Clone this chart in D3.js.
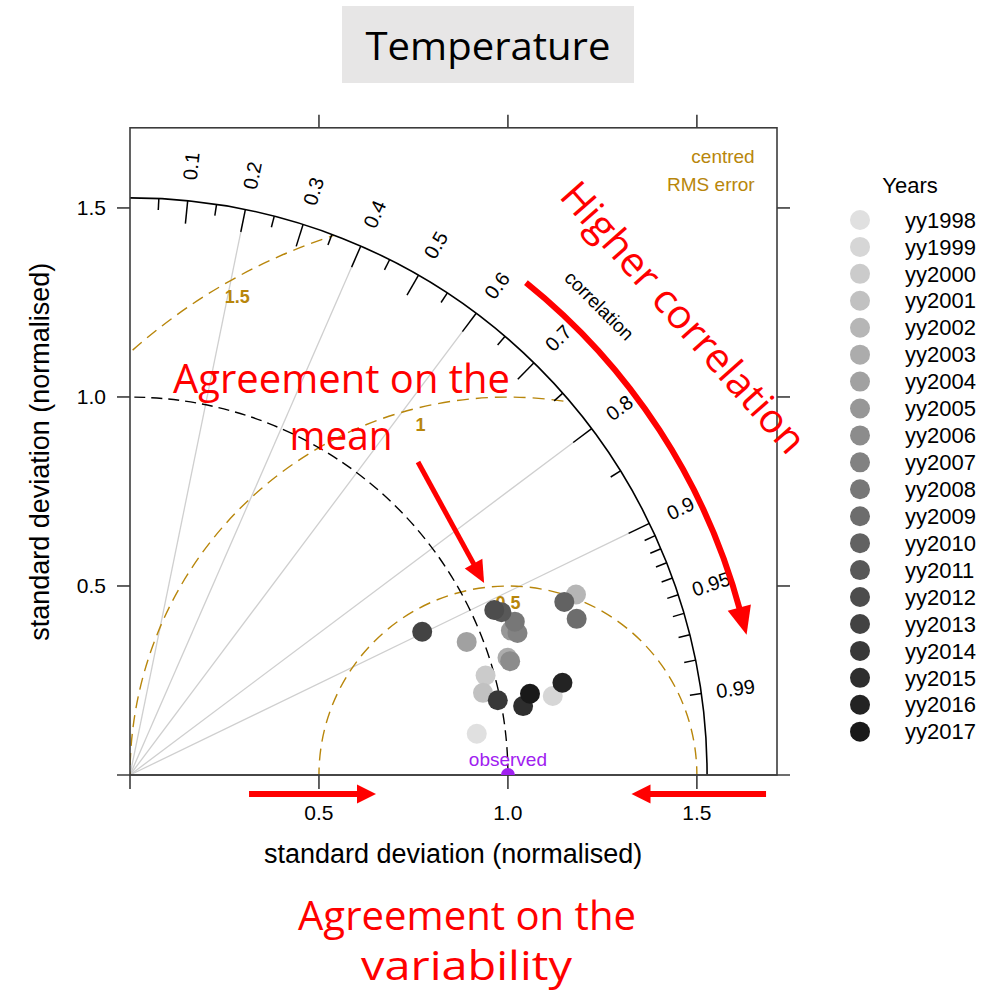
<!DOCTYPE html>
<meta charset="utf-8">
<style>
body { margin: 0; background: #fff; }
svg { display: block; }
text { font-family: "Liberation Sans", Arial, sans-serif; }
.frame { stroke: #3c3c3c; stroke-width: 1.6; fill: none; }
.note { fill: #ff0000; font-family: "Open Sans", sans-serif; font-size: 40px; }
</style>
<svg width="989" height="992"></svg>
<script src="https://d3js.org/d3.v7.min.js"></script>
<script>

// values
var years = ["yy1998","yy1999","yy2000","yy2001","yy2002","yy2003","yy2004","yy2005","yy2006","yy2007",
             "yy2008","yy2009","yy2010","yy2011","yy2012","yy2013","yy2014","yy2015","yy2016","yy2017"];
var sdNorm = [0.924, 1.138, 0.977, 0.959, 1.273, 1.046, 0.958, 1.078, 1.050, 1.092,
              1.096, 1.252, 1.237, 1.073, 1.058, 0.861, 0.993, 1.056, 1.170, 1.080];
var corr   = [0.993, 0.983, 0.963, 0.974, 0.927, 0.955, 0.930, 0.935, 0.958, 0.939,
              0.929, 0.944, 0.929, 0.916, 0.911, 0.898, 0.980, 0.985, 0.978, 0.980];

var corrLabels = [0.1, 0.2, 0.3, 0.4, 0.5, 0.6, 0.7, 0.8, 0.9, 0.95, 0.99];
var bigTicks = [0.1, 0.2, 0.3, 0.4, 0.5, 0.6, 0.7, 0.8, 0.9];
var smallTicks = [0.05, 0.15, 0.25, 0.35, 0.45, 0.55, 0.65, 0.75, 0.85, 0.95,
                  0.91, 0.92, 0.93, 0.94, 0.96, 0.97, 0.98, 0.99];
var corrLines = [0.2, 0.4, 0.6, 0.8, 0.9];
var rmsLevels = [0.5, 1, 1.5];
var sdTicks = [0.5, 1.0, 1.5];
var maxsd = 1.527;

var svg = d3.select("svg");
var x = d3.scaleLinear().domain([0, 1.712]).range([130, 777]);
var y = d3.scaleLinear().domain([0, 1.712]).range([775, 127.8]);
var k = x(1) - x(0);
var shade = d3.scaleLinear().domain([0, years.length - 1]).range(["#e0e0e0", "#191919"]);

function polar(sd, r) {
  var a = Math.acos(r);
  return [x(sd * Math.cos(a)), y(sd * Math.sin(a))];
}

var defs = svg.append("defs");
defs.append("clipPath").attr("id", "quarter")
  .append("path")
    .attr("d", "M" + x(0) + "," + y(0) + "L" + x(maxsd) + "," + y(0) +
       "A" + k * maxsd + "," + k * maxsd + " 0 0 0 " + x(0) + "," + y(maxsd) + "Z");
defs.append("clipPath").attr("id", "panel")
  .append("rect")
    .attr("x", x(0)).attr("y", y(1.712))
    .attr("width", x(1.712) - x(0)).attr("height", y(0) - y(1.712));

// title
svg.append("rect").attr("x", 342).attr("y", 6).attr("width", 292).attr("height", 77).attr("fill", "#e7e6e6");
svg.append("text").attr("x", 488).attr("y", 60).attr("text-anchor", "middle")
  .style("font-family", "'Open Sans', sans-serif").style("font-size", "38px")
  .attr("textLength", 245).attr("lengthAdjust", "spacingAndGlyphs")
  .text("Temperature");

var g = svg.append("g");

// correlation rays
g.selectAll(".ray").data(corrLines).enter().append("line")
    .attr("x1", x(0)).attr("y1", y(0))
    .attr("x2", function(d) { return polar(maxsd * 0.96, d)[0]; })
    .attr("y2", function(d) { return polar(maxsd * 0.96, d)[1]; })
    .attr("stroke", "#cfcfcf").attr("stroke-width", 1.3);

// centred rms circles
g.selectAll(".rms").data(rmsLevels).enter().append("circle")
    .attr("clip-path", "url(#quarter)")
    .attr("cx", x(1)).attr("cy", y(0))
    .attr("r", function(d) { return d * k; })
    .attr("fill", "none").attr("stroke", "#b8860b").attr("stroke-width", 1.4)
    .attr("stroke-dasharray", "12,7");

var rmsAngle = { "0.5": 90, "1": 104, "1.5": 119.5 };
g.selectAll(".rmslab").data(rmsLevels).enter().append("text")
    .attr("x", function(d) { return x(1 + (d - 0.045) * Math.cos(rmsAngle[d] * Math.PI / 180)); })
    .attr("y", function(d) { return y((d - 0.045) * Math.sin(rmsAngle[d] * Math.PI / 180)); })
    .attr("dy", "0.35em").attr("text-anchor", "middle")
    .attr("fill", "#b8860b").style("font-weight", "bold").style("font-size", "18px")
    .text(function(d) { return d; });

// observed sd arc
var p1 = d3.path();
p1.moveTo(x(1), y(0));
p1.arc(x(0), y(0), k, 0, -Math.PI / 2, true);
g.append("path").attr("d", p1.toString())
    .attr("fill", "none").attr("stroke", "#000").attr("stroke-width", 1.4).attr("stroke-dasharray", "11,6");

// outer arc
var p2 = d3.path();
p2.moveTo(x(maxsd), y(0));
p2.arc(x(0), y(0), k * maxsd, 0, -Math.PI / 2, true);
g.append("path").attr("d", p2.toString()).attr("fill", "none").attr("stroke", "#000").attr("stroke-width", 1.6);

g.selectAll(".bt").data(bigTicks).enter().append("line")
    .attr("x1", function(d) { return polar(maxsd, d)[0]; })
    .attr("y1", function(d) { return polar(maxsd, d)[1]; })
    .attr("x2", function(d) { return polar(maxsd * 0.96, d)[0]; })
    .attr("y2", function(d) { return polar(maxsd * 0.96, d)[1]; })
    .attr("stroke", "#000").attr("stroke-width", 1.5);
g.selectAll(".st").data(smallTicks).enter().append("line")
    .attr("x1", function(d) { return polar(maxsd, d)[0]; })
    .attr("y1", function(d) { return polar(maxsd, d)[1]; })
    .attr("x2", function(d) { return polar(maxsd * 0.98, d)[0]; })
    .attr("y2", function(d) { return polar(maxsd * 0.98, d)[1]; })
    .attr("stroke", "#000").attr("stroke-width", 1.5);

g.selectAll(".cl").data(corrLabels).enter().append("text")
    .attr("transform", function(d) {
      var p = polar(maxsd * 1.06, d);
      return "translate(" + p[0] + "," + p[1] + ") rotate(" + (-Math.acos(d) * 180 / Math.PI) + ")";
    })
    .attr("text-anchor", "middle").attr("dy", "0.35em")
    .style("font-size", "20px")
    .text(function(d) { return d; });

var cp = polar(maxsd * 1.15, Math.cos(Math.PI / 4));
g.append("text")
    .attr("transform", "translate(" + cp[0] + "," + cp[1] + ") rotate(45)")
    .attr("text-anchor", "middle").attr("dy", "0.35em").style("font-size", "19px")
    .text("correlation");

g.append("text").attr("x", x(1.653)).attr("y", y(1.636)).attr("dy", "0.35em")
    .attr("text-anchor", "end").attr("fill", "#b8860b").style("font-size", "19px").text("centred");
g.append("text").attr("x", x(1.653)).attr("y", y(1.563)).attr("dy", "0.35em")
    .attr("text-anchor", "end").attr("fill", "#b8860b").style("font-size", "19px").text("RMS error");

// frame and axes
svg.append("rect").attr("class", "frame")
    .attr("x", x(0)).attr("y", y(1.712)).attr("width", x(1.712) - x(0)).attr("height", y(0) - y(1.712));
svg.append("line").attr("class", "frame")
    .attr("x1", x(0) - 13).attr("x2", x(1.712) + 13).attr("y1", y(0)).attr("y2", y(0));

var xt = [0].concat(sdTicks);
svg.selectAll(".xb").data(xt).enter().append("line").attr("class", "frame")
    .attr("x1", x).attr("x2", x).attr("y1", y(0)).attr("y2", y(0) + 14);
svg.selectAll(".xtop").data(sdTicks).enter().append("line").attr("class", "frame")
    .attr("x1", x).attr("x2", x).attr("y1", y(1.712)).attr("y2", y(1.712) - 13);
svg.selectAll(".yl").data(sdTicks).enter().append("line").attr("class", "frame")
    .attr("y1", y).attr("y2", y).attr("x1", x(0)).attr("x2", x(0) - 13);
svg.selectAll(".yr").data(sdTicks).enter().append("line").attr("class", "frame")
    .attr("y1", y).attr("y2", y).attr("x1", x(1.712)).attr("x2", x(1.712) + 13);

svg.selectAll(".xlab").data(sdTicks).enter().append("text")
    .attr("x", x).attr("y", y(0) + 45).attr("text-anchor", "middle").style("font-size", "21px")
    .text(function(d) { return d.toFixed(1); });
svg.selectAll(".ylab").data(sdTicks).enter().append("text")
    .attr("x", x(0) - 24).attr("y", y).attr("dy", "0.35em").attr("text-anchor", "end").style("font-size", "21px")
    .text(function(d) { return d.toFixed(1); });

svg.append("text").attr("x", x(0.855)).attr("y", 863).attr("text-anchor", "middle")
    .style("font-size", "27px").text("standard deviation (normalised)");
svg.append("text").attr("transform", "translate(49," + y(0.855) + ") rotate(-90)")
    .attr("text-anchor", "middle").style("font-size", "27px").text("standard deviation (normalised)");

// observed point
svg.append("circle").attr("clip-path", "url(#panel)")
    .attr("cx", x(1)).attr("cy", y(0)).attr("r", 7).attr("fill", "#a020f0");
svg.append("text").attr("x", x(1)).attr("y", y(0) - 9).attr("text-anchor", "middle")
    .attr("fill", "#a020f0").style("font-size", "19px").text("observed");

// model points
svg.selectAll(".pt").data(years).enter().append("circle")
    .attr("cx", function(d, i) { return polar(sdNorm[i], corr[i])[0]; })
    .attr("cy", function(d, i) { return polar(sdNorm[i], corr[i])[1]; })
    .attr("r", 10)
    .attr("fill", function(d, i) { return shade(i); });

// legend
var leg = svg.append("g");
leg.append("text").attr("x", 910).attr("y", 185).attr("dy", "0.35em").attr("text-anchor", "middle")
    .style("font-size", "22px").text("Years");
var items = leg.selectAll(".li").data(years).enter().append("g")
    .attr("transform", function(d, i) { return "translate(860," + (220 + i * 26.93) + ")"; });
items.append("circle").attr("r", 10).attr("fill", function(d, i) { return shade(i); });
items.append("text").attr("x", 45).attr("dy", "0.35em").style("font-size", "22px")
    .text(function(d) { return d; });

// red annotations
var red = svg.append("g");

function arrowHead(tip, dir, len, half) {
  var bx = tip[0] - dir[0] * len, by = tip[1] - dir[1] * len;
  return "M" + tip[0] + "," + tip[1] +
    "L" + (bx - dir[1] * half) + "," + (by + dir[0] * half) +
    "L" + (bx + dir[1] * half) + "," + (by - dir[0] * half) + "Z";
}

// curved arrow along the correlation arc
var ra = 1.672 * k, th0 = 51.2 * Math.PI / 180, th1 = 15 * Math.PI / 180;
var p3 = d3.path();
p3.moveTo(x(0) + ra * Math.cos(th0), y(0) - ra * Math.sin(th0));
p3.arc(x(0), y(0), ra, -th0, -th1, false);
red.append("path").attr("d", p3.toString()).attr("fill", "none").attr("stroke", "#ff0000").attr("stroke-width", 6);
var endP = [x(0) + ra * Math.cos(th1), y(0) - ra * Math.sin(th1)];
var tdir = [Math.sin(th1), Math.cos(th1)];
red.append("path").attr("fill", "#ff0000")
    .attr("d", arrowHead([endP[0] + tdir[0] * 24, endP[1] + tdir[1] * 24], tdir, 28, 12));

// straight arrow to the mean
var a0 = [x(0.762), y(0.828)], a1 = [x(0.937), y(0.508)];
var dl = Math.hypot(a1[0] - a0[0], a1[1] - a0[1]);
var ad = [(a1[0] - a0[0]) / dl, (a1[1] - a0[1]) / dl];
red.append("line").attr("x1", a0[0]).attr("y1", a0[1])
    .attr("x2", a1[0] - ad[0] * 20).attr("y2", a1[1] - ad[1] * 20)
    .attr("stroke", "#ff0000").attr("stroke-width", 5);
red.append("path").attr("fill", "#ff0000").attr("d", arrowHead(a1, ad, 22, 10));

// horizontal arrows below the axis
[[0.315, 0.651], [1.683, 1.327]].forEach(function(s) {
  var yy = y(0) + 19;
  var dir = [s[1] > s[0] ? 1 : -1, 0];
  red.append("line").attr("x1", x(s[0])).attr("x2", x(s[1]) - dir[0] * 18)
      .attr("y1", yy).attr("y2", yy).attr("stroke", "#ff0000").attr("stroke-width", 6);
  red.append("path").attr("fill", "#ff0000").attr("d", arrowHead([x(s[1]), yy], dir, 19, 9.5));
});

red.append("text").attr("class", "note").attr("x", 341.5).attr("y", 393).attr("text-anchor", "middle")
    .attr("textLength", 337).attr("lengthAdjust", "spacingAndGlyphs").text("Agreement on the");
red.append("text").attr("class", "note").attr("x", 341).attr("y", 450).attr("text-anchor", "middle")
    .attr("textLength", 103).attr("lengthAdjust", "spacingAndGlyphs").text("mean");
red.append("text").attr("class", "note").attr("x", 467).attr("y", 930).attr("text-anchor", "middle")
    .attr("textLength", 338).attr("lengthAdjust", "spacingAndGlyphs").text("Agreement on the");
red.append("text").attr("class", "note").attr("x", 466.5).attr("y", 980).attr("text-anchor", "middle")
    .attr("textLength", 211).attr("lengthAdjust", "spacingAndGlyphs").text("variability");
red.append("text").attr("class", "note")
    .attr("transform", "translate(683.5,317.5) rotate(48.5)")
    .attr("text-anchor", "middle").attr("dy", "0.35em")
    .attr("textLength", 347).attr("lengthAdjust", "spacingAndGlyphs").text("Higher correlation");

</script>
